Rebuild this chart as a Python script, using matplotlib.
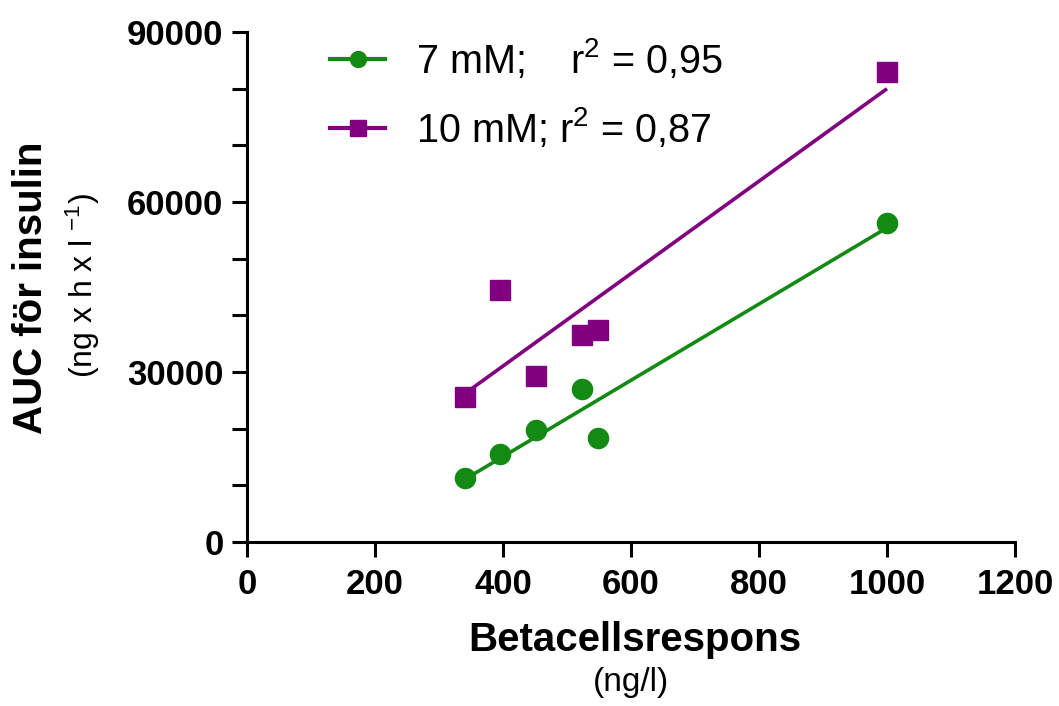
import numpy as np
import matplotlib
matplotlib.use("Agg")
import matplotlib.pyplot as plt
from matplotlib.ticker import MultipleLocator

plt.rcParams['font.family'] = ['Liberation Sans', 'DejaVu Sans']
plt.rcParams['mathtext.fontset'] = 'custom'
plt.rcParams['mathtext.rm'] = 'Liberation Sans'
plt.rcParams['mathtext.it'] = 'Liberation Sans'
plt.rcParams['mathtext.bf'] = 'Liberation Sans:bold'

# data
x_7mm = [340, 395, 452, 523, 548, 1000]
y_7mm = [11300, 15500, 19800, 27000, 18300, 56300]
x_10mm = [340, 395, 452, 523, 548, 1000]
y_10mm = [25600, 44500, 29300, 36600, 37400, 82900]
labels = ["7 mM;    r$^2$ = 0,95", "10 mM; r$^2$ = 0,87"]
green = '#138a13'
purple = '#800080'

fig = plt.figure(figsize=(10.59, 7.06), dpi=100)
ax = fig.add_axes([247/1059, 1-542/706, 768/1059, 510/706])

for xs, ys, col, mk in [(x_7mm, y_7mm, green, 'o'),
                        (x_10mm, y_10mm, purple, 's')]:
    xs = np.array(xs, dtype=float)
    ys = np.array(ys, dtype=float)
    k, m = np.polyfit(xs, ys, 1)
    xl = np.array([xs.min(), xs.max()])
    ax.plot(xl, k*xl + m, color=col, lw=2.6, solid_capstyle='butt')
    ax.plot(xs, ys, ls='none', marker=mk, ms=14.5 if mk == 'o' else 14,
            color=col, mec=col)

ax.set_xlim(0, 1200)
ax.set_ylim(0, 90000)
ax.xaxis.set_major_locator(MultipleLocator(200))
ax.yaxis.set_major_locator(MultipleLocator(30000))
ax.yaxis.set_minor_locator(MultipleLocator(10000))
for s in ['top', 'right']:
    ax.spines[s].set_visible(False)
for s in ['left', 'bottom']:
    ax.spines[s].set_linewidth(2.2)
ax.tick_params(which='both', direction='out', width=2.2, color='black', length=11)
ax.tick_params(axis='x', pad=8)
ax.tick_params(axis='y', pad=6)
for t in ax.get_xticklabels() + ax.get_yticklabels():
    t.set_fontsize(25)
    t.set_fontweight('bold')

# legend handles with markers
h1, = ax.plot([], [], color=green, lw=3, marker='o', ms=11.5)
h2, = ax.plot([], [], color=purple, lw=3, marker='s', ms=11)
leg = ax.legend([h1, h2], labels, loc='upper left',
                bbox_to_anchor=((330-247)/768, 0.99),
                frameon=False, fontsize=28.5, handlelength=1.4, handletextpad=0.78,
                labelspacing=0.62, borderpad=0, borderaxespad=0)

fig.text(31/1059, 1-288/706, "AUC för insulin", rotation=90, fontsize=29,
         fontweight='bold', ha='center', va='center')
fig.text(83/1059, 1-285/706, "(ng x h x l $^{-1}$)", rotation=90, fontsize=23,
         ha='center', va='center')
fig.text(635/1059, 1-640/706, "Betacellsrespons", fontsize=29,
         fontweight='bold', ha='center', va='center')
fig.text(631/1059, 1-683/706, "(ng/l)", fontsize=24, ha='center', va='center')

fig.savefig("out.png", dpi=100)
